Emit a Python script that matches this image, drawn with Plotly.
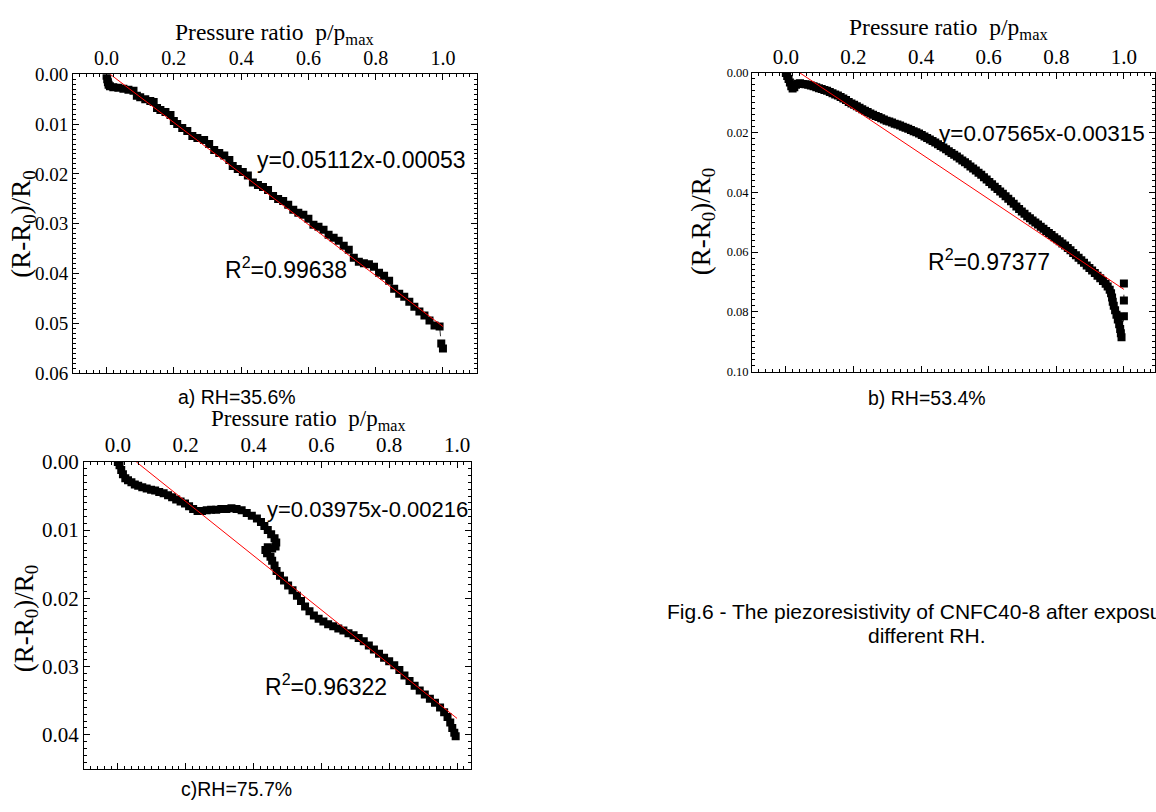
import plotly.graph_objects as go

W, H = 1156, 812
SERIF = "Liberation Serif, Times New Roman, serif"
SANS = "Liberation Sans, Arial, sans-serif"

# ---- a) RH = 35.6 % ----
a_x = [0.000, 0.002, 0.004, 0.006, 0.010, 0.020, 0.035, 0.050, 0.065, 0.080,
       0.090, 0.100, 0.115, 0.130, 0.140, 0.150, 0.160, 0.175, 0.190, 0.200,
       0.210, 0.225, 0.240, 0.255, 0.270, 0.290, 0.305, 0.320, 0.335, 0.350,
       0.365, 0.375, 0.390, 0.405, 0.420, 0.435, 0.450, 0.465, 0.480, 0.495,
       0.510, 0.525, 0.540, 0.555, 0.570, 0.585, 0.600, 0.615, 0.630, 0.645,
       0.660, 0.675, 0.690, 0.705, 0.720, 0.735, 0.750, 0.765, 0.780, 0.795,
       0.810, 0.825, 0.840, 0.855, 0.870, 0.885, 0.900, 0.915, 0.930, 0.945,
       0.960, 0.975, 0.990, 0.995, 1.000]
a_y = [0.0003, 0.0010, 0.0016, 0.0021, 0.0024, 0.0026, 0.0027, 0.0029, 0.0031, 0.0033,
       0.0043, 0.0046, 0.0050, 0.0054, 0.0056, 0.0068, 0.0072, 0.0076, 0.0082, 0.0094,
       0.0100, 0.0108, 0.0114, 0.0124, 0.0128, 0.0132, 0.0140, 0.0152, 0.0158, 0.0163,
       0.0172, 0.0184, 0.0190, 0.0196, 0.0203, 0.0217, 0.0222, 0.0226, 0.0232, 0.0244,
       0.0250, 0.0254, 0.0262, 0.0272, 0.0278, 0.0282, 0.0290, 0.0302, 0.0306, 0.0312,
       0.0322, 0.0328, 0.0334, 0.0344, 0.0352, 0.0368, 0.0376, 0.0379, 0.0381, 0.0386,
       0.0398, 0.0404, 0.0414, 0.0430, 0.0440, 0.0446, 0.0456, 0.0466, 0.0476, 0.0484,
       0.0494, 0.0504, 0.0506, 0.0540, 0.0550]
a_fit = (0.05112, -0.00053, 0.99638)

# ---- b) RH = 53.4 % ----
b_x = [0.000, 0.004, 0.008, 0.012, 0.016, 0.020, 0.025, 0.030, 0.036, 0.042,
       0.050, 0.058, 0.066, 0.074, 0.082, 0.090, 0.098, 0.106, 0.114, 0.122,
       0.130, 0.138, 0.146, 0.154, 0.162, 0.170, 0.178, 0.186, 0.194, 0.202,
       0.210, 0.218, 0.226, 0.234, 0.242, 0.250, 0.258, 0.266, 0.274, 0.282,
       0.290, 0.298, 0.306, 0.314, 0.322, 0.330, 0.338, 0.346, 0.354, 0.362,
       0.370, 0.378, 0.386, 0.394, 0.402, 0.410, 0.418, 0.426, 0.434, 0.442,
       0.450, 0.458, 0.466, 0.474, 0.482, 0.490, 0.498, 0.506, 0.514, 0.522,
       0.530, 0.538, 0.546, 0.554, 0.562, 0.570, 0.578, 0.586, 0.594, 0.602,
       0.610, 0.618, 0.626, 0.634, 0.642, 0.650, 0.658, 0.666, 0.674, 0.682,
       0.690, 0.698, 0.706, 0.714, 0.722, 0.730, 0.738, 0.746, 0.754, 0.762,
       0.770, 0.778, 0.786, 0.794, 0.802, 0.810, 0.818, 0.826, 0.834, 0.842,
       0.850, 0.858, 0.866, 0.874, 0.882, 0.890, 0.898, 0.906, 0.914, 0.922,
       0.930, 0.938, 0.946, 0.952, 0.958, 0.962, 0.965, 0.967, 0.970, 0.974,
       0.978, 0.982, 0.986, 0.989, 0.991, 0.993, 1.000, 1.000, 1.000]
b_y = [0.0000, 0.0010, 0.0020, 0.0032, 0.0045, 0.0052, 0.0048, 0.0040, 0.0036, 0.0035,
       0.0037, 0.0038, 0.0040, 0.0042, 0.0045, 0.0048, 0.0051, 0.0054, 0.0057, 0.0060,
       0.0064, 0.0068, 0.0072, 0.0076, 0.0081, 0.0086, 0.0091, 0.0097, 0.0102, 0.0107,
       0.0112, 0.0117, 0.0122, 0.0127, 0.0131, 0.0136, 0.0140, 0.0144, 0.0148, 0.0152,
       0.0156, 0.0160, 0.0163, 0.0166, 0.0170, 0.0173, 0.0176, 0.0180, 0.0184, 0.0187,
       0.0191, 0.0195, 0.0199, 0.0203, 0.0208, 0.0213, 0.0218, 0.0223, 0.0228, 0.0233,
       0.0239, 0.0245, 0.0250, 0.0256, 0.0262, 0.0268, 0.0274, 0.0280, 0.0287, 0.0293,
       0.0299, 0.0306, 0.0313, 0.0320, 0.0327, 0.0334, 0.0341, 0.0349, 0.0357, 0.0365,
       0.0373, 0.0381, 0.0389, 0.0397, 0.0405, 0.0413, 0.0421, 0.0430, 0.0438, 0.0447,
       0.0456, 0.0464, 0.0472, 0.0480, 0.0487, 0.0494, 0.0501, 0.0508, 0.0515, 0.0522,
       0.0529, 0.0536, 0.0543, 0.0550, 0.0557, 0.0564, 0.0571, 0.0578, 0.0586, 0.0594,
       0.0603, 0.0611, 0.0619, 0.0627, 0.0636, 0.0645, 0.0653, 0.0662, 0.0670, 0.0679,
       0.0688, 0.0697, 0.0706, 0.0715, 0.0726, 0.0738, 0.0752, 0.0766, 0.0780, 0.0795,
       0.0810, 0.0826, 0.0842, 0.0858, 0.0872, 0.0885, 0.0815, 0.0762, 0.0705]
b_fit = (0.07565, -0.00315, 0.97377)

# ---- c) RH = 75.7 % ----
c_x = [0.000, 0.005, 0.010, 0.015, 0.022, 0.030, 0.040, 0.050, 0.060, 0.072,
       0.085, 0.098, 0.110, 0.122, 0.135, 0.148, 0.160, 0.172, 0.185, 0.198,
       0.210, 0.222, 0.235, 0.248, 0.262, 0.275, 0.290, 0.305, 0.320, 0.335,
       0.350, 0.365, 0.380, 0.395, 0.410, 0.422, 0.432, 0.442, 0.452, 0.462,
       0.467, 0.465, 0.455, 0.442, 0.435, 0.440, 0.450, 0.455, 0.462, 0.468,
       0.478, 0.490, 0.502, 0.515, 0.528, 0.540, 0.552, 0.565, 0.578, 0.592,
       0.606, 0.620, 0.635, 0.650, 0.665, 0.680, 0.695, 0.710, 0.725, 0.740,
       0.755, 0.770, 0.785, 0.800, 0.815, 0.830, 0.845, 0.860, 0.875, 0.890,
       0.905, 0.920, 0.935, 0.950, 0.962, 0.972, 0.980, 0.986, 0.992, 0.996]
c_y = [0.0000, 0.0005, 0.0012, 0.0018, 0.0024, 0.0027, 0.0030, 0.0033, 0.0035, 0.0037,
       0.0039, 0.0041, 0.0042, 0.0044, 0.0046, 0.0049, 0.0052, 0.0055, 0.0058, 0.0061,
       0.0065, 0.0069, 0.0072, 0.0072, 0.0071, 0.0070, 0.0070, 0.0069, 0.0069, 0.0068,
       0.0069, 0.0071, 0.0075, 0.0079, 0.0083, 0.0088, 0.0094, 0.0100, 0.0106, 0.0112,
       0.0118, 0.0124, 0.0127, 0.0125, 0.0129, 0.0134, 0.0139, 0.0145, 0.0152, 0.0160,
       0.0167, 0.0174, 0.0181, 0.0188, 0.0196, 0.0204, 0.0212, 0.0219, 0.0225, 0.0230,
       0.0234, 0.0238, 0.0241, 0.0244, 0.0247, 0.0251, 0.0254, 0.0258, 0.0263, 0.0269,
       0.0275, 0.0281, 0.0287, 0.0292, 0.0298, 0.0305, 0.0313, 0.0321, 0.0328, 0.0335,
       0.0341, 0.0347, 0.0353, 0.0360, 0.0367, 0.0374, 0.0382, 0.0390, 0.0397, 0.0402]
c_fit = (0.03975, -0.00216, 0.96322)

x_ticks = [0.0, 0.2, 0.4, 0.6, 0.8, 1.0]
x_ticktext = ["0.0", "0.2", "0.4", "0.6", "0.8", "1.0"]

# panel geometry in pixels: (left, top, right, bottom), axis ranges, tick steps, font sizes
panels = [
    dict(name="", box=(73, 64, 477, 372), xr=[-0.1, 1.1], yr=[0.06, 0.0],
         ydt=0.01, ymin=0.001, xfs=20, yfs=19,
         x=a_x, y=a_y, fit=a_fit),
    dict(name="2", box=(752.7, 62.7, 1156, 370), xr=[-0.1, 1.092], yr=[0.10, 0.0],
         ydt=0.02, ymin=0.002, xfs=21, yfs=12.5,
         x=b_x, y=b_y, fit=b_fit),
    dict(name="3", box=(84, 463, 471, 779), xr=[-0.1, 1.04], yr=[0.045, 0.0],
         ydt=0.01, ymin=0.001, xfs=21, yfs=21,
         x=c_x, y=c_y, fit=c_fit),
]

fig = go.Figure()
layout = {}
for p in panels:
    n = p["name"]
    l, t, r, b = p["box"]
    xa, ya = "x" + n, "y" + n
    fig.add_trace(go.Scatter(
        x=p["x"], y=p["y"], xaxis=xa, yaxis=ya, mode="lines+markers",
        line=dict(color="black", width=0.8, dash="dash"),
        marker=dict(symbol="square", size=8, color="black"),
        showlegend=False, hoverinfo="skip"))
    slope, icpt, _ = p["fit"]
    x0 = -icpt / slope
    fx = [x0, 1.0]
    fig.add_trace(go.Scatter(
        x=fx, y=[slope * v + icpt for v in fx], xaxis=xa, yaxis=ya,
        mode="lines", line=dict(color="red", width=1),
        showlegend=False, hoverinfo="skip"))
    common = dict(showline=True, linecolor="black", linewidth=1, mirror="allticks",
                  ticks="inside", tickcolor="black", tickwidth=1, ticklen=6,
                  showgrid=False, zeroline=False)
    layout["xaxis" + n] = dict(
        domain=[l / W, r / W], range=p["xr"], side="top", anchor=ya,
        tickvals=x_ticks, ticktext=x_ticktext,
        tickfont=dict(family=SERIF, size=p["xfs"], color="black"),
        minor=dict(dtick=0.02, tick0=0, ticks="inside", ticklen=3,
                   tickcolor="black", showgrid=False),
        **common)
    layout["yaxis" + n] = dict(
        domain=[1 - b / H, 1 - t / H], range=p["yr"], anchor=xa,
        dtick=p["ydt"], tick0=0, tickformat=".2f",
        tickfont=dict(family=SERIF, size=p["yfs"], color="black"),
        minor=dict(dtick=p["ymin"], tick0=0, ticks="inside", ticklen=3,
                   tickcolor="black", showgrid=False),
        **common)


def note(text, px, py, size, family=SANS, xanchor="left", angle=0):
    return dict(text=text, x=px / W, y=1 - py / H, xref="paper", yref="paper",
                xanchor=xanchor, yanchor="middle", showarrow=False, textangle=angle,
                font=dict(family=family, size=size, color="black"))


xtitle = "Pressure ratio&nbsp;&nbsp;p/p<sub>max</sub>"
ytitle = "(R-R<sub>0</sub>)/R<sub>0</sub>"
annotations = [
    # axis titles
    note(xtitle, 275, 23, 23.5, SERIF, "center"),
    note(xtitle, 949, 17, 23.5, SERIF, "center"),
    note(xtitle, 308, 420, 23, SERIF, "center"),
    note(ytitle, 23, 218, 27, SERIF, "center", -90),
    note(ytitle, 703, 216, 27, SERIF, "center", -90),
    note(ytitle, 26, 624, 27, SERIF, "center", -90),
    # fit equations and R^2
    note("y=%.5fx%.5f" % a_fit[:2], 255, 152, 23),
    note("R<sup>2</sup>=%.5f" % a_fit[2], 223, 263, 23),
    note("y=%.5fx%.5f" % b_fit[:2], 938, 125, 22.5),
    note("R<sup>2</sup>=%.5f" % b_fit[2], 927, 255, 23),
    note("y=%.5fx%.5f" % c_fit[:2], 265, 512, 22),
    note("R<sup>2</sup>=%.5f" % c_fit[2], 263, 693, 23),
    # panel captions
    note("a) RH=35.6%", 237, 396, 19.5, SANS, "center"),
    note("b) RH=53.4%", 928, 397, 19.5, SANS, "center"),
    note("c)RH=75.7%", 237, 800, 19.5, SANS, "center"),
    # figure caption
    note("Fig.6 - The piezoresistivity of CNFC40-8 after exposure to", 666, 617, 21),
    note("different RH.", 928, 642, 21, SANS, "center"),
]

fig.update_layout(
    width=W, height=H, margin=dict(l=0, r=0, t=0, b=0),
    paper_bgcolor="white", plot_bgcolor="white",
    annotations=annotations, **layout)

fig.write_html("out.html")
